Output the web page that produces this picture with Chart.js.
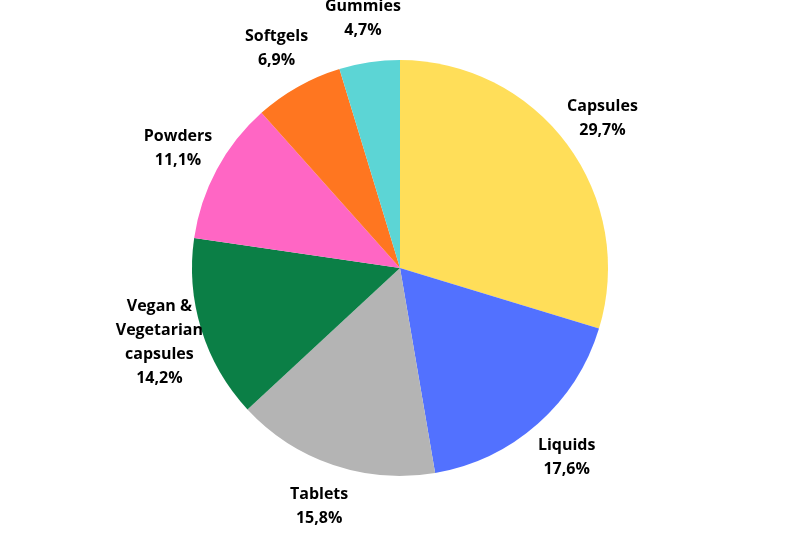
<!DOCTYPE html>
<html>
<head>
<meta charset="utf-8">
<script src="https://cdn.jsdelivr.net/npm/chart.js@4"></script>
<style>
  html, body { margin: 0; padding: 0; background: #fff; }
  #wrap { width: 800px; height: 533px; }
</style>
</head>
<body>
<div id="wrap"><canvas id="pieChart"></canvas></div>
<script>
// Chart data
const categories = [
    ['Capsules'],
    ['Liquids'],
    ['Tablets'],
    ['Vegan &', 'Vegetarian', 'capsules'],
    ['Powders'],
    ['Softgels'],
    ['Gummies']
];
const shares = [29.7, 17.6, 15.8, 14.2, 11.1, 6.9, 4.7];
const colors = ['#FFDE59', '#5271FF', '#B4B4B4', '#0B7F46', '#FF66C4', '#FF7620', '#5CD5D5'];

// Draw labels outside the slices
const outsideLabels = {
    id: 'outsideLabels',
    afterDraw(chart) {
        const ctx = chart.ctx;
        const arcs = chart.getDatasetMeta(0).data;
        ctx.save();
        ctx.fillStyle = '#000';
        ctx.font = 'bold 16px "Open Sans", sans-serif';
        ctx.textAlign = 'center';
        ctx.textBaseline = 'middle';
        arcs.forEach((arc, i) => {
            const mid = (arc.startAngle + arc.endAngle) / 2;
            const r = arc.outerRadius + 44;
            const x = arc.x + Math.cos(mid) * r;
            const y = arc.y + Math.sin(mid) * r;
            const lines = categories[i].concat([shares[i].toFixed(1).replace('.', ',') + '%']);
            const lh = 24;
            const top = y - (lines.length - 1) * lh / 2;
            lines.forEach((t, j) => ctx.fillText(t, x, top + j * lh));
        });
        ctx.restore();
    }
};

new Chart(document.getElementById('pieChart'), {
    type: 'pie',
    data: {
        labels: categories.map(c => c.join(' ')),
        datasets: [{
            data: shares,
            backgroundColor: colors,
            borderWidth: 0
        }]
    },
    options: {
        responsive: true,
        maintainAspectRatio: false,
        animation: false,
        layout: { padding: { top: 60, bottom: 57 } },
        plugins: {
            legend: { display: false },
            tooltip: { enabled: false }
        }
    },
    plugins: [outsideLabels]
});
</script>
</body>
</html>
